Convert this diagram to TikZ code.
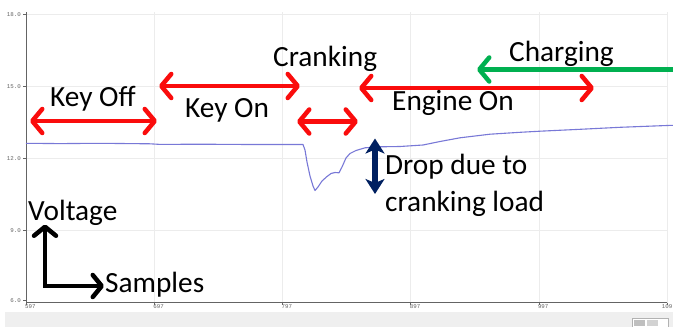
\documentclass[tikz,border=0pt]{standalone}
\usepackage{fontspec}
\setmainfont{Carlito}
\newfontfamily\tickfont{Liberation Mono}
\usetikzlibrary{arrows.meta}
\definecolor{arred}{RGB}{250,12,12}
\definecolor{argreen}{RGB}{0,176,80}
\definecolor{arnavy}{RGB}{0,32,96}
\definecolor{curveblue}{RGB}{120,120,215}
\definecolor{gridgray}{RGB}{236,236,236}
\definecolor{axisgray}{RGB}{100,100,100}
\definecolor{bandgray}{RGB}{239,239,239}
\tikzset{
  lbl/.style={font=\fontsize{29.3}{33}\selectfont, inner sep=0pt, anchor=base west},
  ticklbl/.style={font=\tickfont\fontsize{5.8}{6}\selectfont, text=axisgray, inner sep=0pt},
  redarrow/.style={draw=arred, line width=4.5pt, {Straight Barb[length=10pt,width=24pt,round]}-{Straight Barb[length=10pt,width=24pt,round]}},
  greenarrow/.style={draw=argreen, line width=4.5pt, -{Straight Barb[length=10pt,width=24pt,round]}},
  navyarrow/.style={draw=arnavy, line width=6pt, {Stealth[length=15pt,width=19pt,inset=4pt]}-{Stealth[length=15pt,width=19pt,inset=4pt]}},
  blackarrow/.style={draw=black, line width=4.5pt, {Straight Barb[length=9pt,width=22pt,round]}-{Straight Barb[length=9pt,width=22pt,round]}},
  gridline/.style={draw=gridgray, line width=0.6pt},
  axisline/.style={draw=axisgray, line width=0.9pt},
  curve/.style={draw=curveblue, line width=1.1pt, line join=round}
}
\begin{document}
\begin{tikzpicture}[x=1pt,y=-1pt]
\useasboundingbox (0,0) rectangle (673,327);
\clip (0,0) rectangle (673,327);
\fill[white] (0,0) rectangle (673,327);
% bottom band
\fill[bandgray] (5,312) rectangle (673,327);
\draw[fill=white, draw=gray!60, line width=0.4pt] (632,318.5) rectangle (668,327);
\fill[gray!50] (634,320) rectangle (645,325.5);
\fill[gray!35] (647,320) rectangle (658,325.5);
% grid
\foreach \gx in {154.2,282.4,410.6,538.8,667} {\draw[gridline] (\gx,12) -- (\gx,302.5);}
\foreach \gy in {14.5,86.5,158.5,230.5} {\draw[gridline] (26,\gy) -- (667,\gy);}
% axes
\coordinate (axtop) at (26,12);
\coordinate (axorig) at (26,302.5);
\coordinate (axright) at (667,302.5);
\draw[axisline] (axtop) -- (axorig) -- (axright);
\foreach \gy/\lab in {14.5/18.0,86.5/15.0,158.5/12.0,230.5/9.0,300.5/6.0} {
  \draw[axisline, line width=0.5pt] (23,\gy) -- (26,\gy);
  \node[ticklbl, anchor=east] at (21,\gy) {\lab};
}
\foreach \gx/\lab in {26/597,154.2/697,282.4/797,410.6/897,538.8/997} {
  \draw[axisline, line width=0.5pt] (\gx,302.5) -- (\gx,305);
  \node[ticklbl, anchor=north west] at (\gx-1,304.5) {\lab};
}
\draw[axisline, line width=0.5pt] (667,302.5) -- (667,305);
\node[ticklbl, anchor=north east] at (672.5,304.5) {109};
% voltage curve
\draw[curve] (26,143.3) -- (60,143.6) -- (100,143.3) -- (150,143.8) -- (160,144.4) -- (200,144.2) -- (250,144.5) -- (303,144.5)
  -- (305,150) -- (307,162) -- (310,176) -- (313,186) -- (315,190.5) -- (318,187) -- (322,181) -- (327,176.5) -- (331,173.5)
  -- (335,172.5) -- (339,172.8) -- (342,167) -- (346,158) -- (350,153.5) -- (356,150.5) -- (365,147.8) -- (380,146.8)
  -- (400,146.5) -- (423,145) -- (440,141.5) -- (460,137.8) -- (490,134.2) -- (520,132.3) -- (540,131.2) -- (580,129.3)
  -- (620,127.3) -- (667,125.5) -- (673,125.3);
% red arrows
\coordinate (koL) at (30,121); \coordinate (koR) at (157,121);
\coordinate (konL) at (159,86); \coordinate (konR) at (300,86);
\coordinate (crL) at (297,121.5); \coordinate (crR) at (358,121.5);
\coordinate (eoL) at (359,88); \coordinate (eoR) at (594,88);
\draw[redarrow] (koL) -- (koR);
\draw[redarrow] (konL) -- (konR);
\draw[redarrow] (crL) -- (crR);
\draw[redarrow] (eoL) -- (eoR);
% green arrow
\coordinate (chR) at (673,69.5); \coordinate (chL) at (477,69.5);
\draw[greenarrow] (chR) -- (chL);
% navy arrow
\coordinate (dpT) at (375,138.5); \coordinate (dpB) at (375,194);
\draw[navyarrow] (dpT) -- (dpB);
% axes legend arrow
\coordinate (vTip) at (45,224.5); \coordinate (hTip) at (104,286);
\draw[blackarrow, line join=miter] (vTip) |- (hTip);
% labels
\node[lbl] (keyoff) at (50,106.5) {Key Off};
\node[lbl] (keyon) at (185,117) {Key On};
\node[lbl] (crank) at (273,66.5) {Cranking};
\node[lbl] (engon) at (392,110) {Engine On};
\node[lbl] (charg) at (509,61.5) {Charging};
\node[lbl] (drop1) at (385,174) {Drop due to};
\node[lbl] (drop2) at (385,211.5) {cranking load};
\node[lbl] (volt) at (28,220.5) {Voltage};
\node[lbl] (samp) at (105,292.5) {Samples};
\end{tikzpicture}
\end{document}
